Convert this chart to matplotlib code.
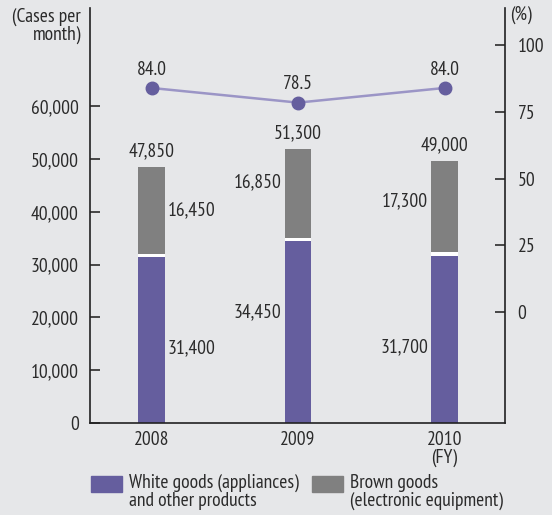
import matplotlib
matplotlib.use("Agg")
import matplotlib.pyplot as plt
from matplotlib.font_manager import fontManager
from matplotlib.patches import Rectangle

years = ["2008", "2009", "2010\n(FY)"]
white_goods = [31400, 34450, 31700]
brown_goods = [16450, 16850, 17300]
totals = [47850, 51300, 49000]
rate = [84.0, 78.5, 84.0]
left_ticks = [0, 10000, 20000, 30000, 40000, 50000, 60000]
right_ticks = [0, 25, 50, 75, 100]

names = {f.name for f in fontManager.ttflist}
fam = next((n for n in ["PT Sans Narrow", "Fira Sans Condensed", "Open Sans"] if n in names))
plt.rcParams["font.family"] = [fam, "DejaVu Sans"]
plt.rcParams["font.weight"] = "normal"

BG = "#e6e7e9"
PURPLE = "#655e9e"
GRAY = "#808080"
LINE = "#9b95c6"
TXT = "#2b2b2b"
FS = 14

fig = plt.figure(figsize=(5.52, 5.15), dpi=100, facecolor=BG)
ax = fig.add_axes([90/552, 1-423/515, 415/552, 415/515])
ax.set_facecolor(BG)
x = list(range(len(years)))
w = 0.184
gap = 650
ax.bar(x, white_goods, width=w, color=PURPLE, zorder=2)
ax.bar(x, brown_goods, width=w, bottom=[v + gap for v in white_goods], color=GRAY, zorder=2)
ax.bar(x, [gap]*3, width=w, bottom=white_goods, color="white", zorder=2)
ax.set_xlim(-0.42, 2.413)
ax.set_ylim(0, 78600)
ax.set_yticks(left_ticks)
ax.set_yticklabels([f"{v:,}" for v in left_ticks])
ax.set_xticks(x)
ax.set_xticklabels(years, linespacing=0.95)
ax.tick_params(axis="x", length=0, pad=6, labelsize=FS, colors=TXT)
ax.tick_params(axis="y", direction="in", length=7, width=1.2, pad=8, labelsize=FS, colors=TXT)
for s in ["left", "bottom"]:
    ax.spines[s].set_linewidth(1.2)
    ax.spines[s].set_color("#222222")
ax.spines["top"].set_visible(False)
ax.spines["right"].set_visible(False)

for i in x:
    tot_top = white_goods[i] + gap + brown_goods[i]
    ax.text(i, tot_top + 1300, f"{totals[i]:,}", ha="center", va="bottom", fontsize=FS, color=TXT)
    mb = white_goods[i] + gap + brown_goods[i] / 2
    mw = white_goods[i] / 2
    if i == 0:
        ax.text(i + w/2 + 0.02, mb, f"{brown_goods[i]:,}", ha="left", va="center", fontsize=FS, color=TXT)
        ax.text(i + w/2 + 0.02, mw - 1500, f"{white_goods[i]:,}", ha="left", va="center", fontsize=FS, color=TXT)
    else:
        ax.text(i - w/2 - 0.02, mb + (2000 if i == 1 else 1000), f"{brown_goods[i]:,}", ha="right", va="center", fontsize=FS, color=TXT)
        ax.text(i - w/2 - 0.02, mw + (3800 if i == 1 else -1500), f"{white_goods[i]:,}", ha="right", va="center", fontsize=FS, color=TXT)

ax2 = ax.twinx()
ax2.set_ylim(-41.7, 114)
ax2.plot(x, rate, color=LINE, lw=1.8, zorder=3)
ax2.plot(x, rate, "o", color=PURPLE, ms=9, zorder=4)
for i in x:
    ax2.text(i, rate[i] + 3.5, f"{rate[i]:.1f}", ha="center", va="bottom", fontsize=FS, color=TXT)
ax2.set_yticks(right_ticks)
ax2.set_yticklabels([str(v) for v in right_ticks])
ax2.tick_params(axis="y", direction="in", length=7, width=1.2, pad=9, labelsize=FS, colors=TXT)
for s in ["left", "top", "bottom"]:
    ax2.spines[s].set_visible(False)
ax2.spines["right"].set_linewidth(1.2)
ax2.spines["right"].set_color("#222222")

fig.text(81/552, 1-8/515, "(Cases per\nmonth)", ha="right", va="top", fontsize=FS, color=TXT, linespacing=0.95)
fig.text(510/552, 1-6/515, "(%)", ha="left", va="top", fontsize=FS, color=TXT)

fig.patches.append(Rectangle((91/552, 1-492/515), 31/552, 16/515, transform=fig.transFigure, color=PURPLE))
fig.patches.append(Rectangle((312/552, 1-492/515), 31/552, 16/515, transform=fig.transFigure, color=GRAY))
fig.text(129/552, 1-474/515, "White goods (appliances)\nand other products", ha="left", va="top", fontsize=FS, color=TXT, linespacing=0.95)
fig.text(350/552, 1-474/515, "Brown goods\n(electronic equipment)", ha="left", va="top", fontsize=FS, color=TXT, linespacing=0.95)

fig.savefig("out.png", dpi=100, facecolor=BG)
